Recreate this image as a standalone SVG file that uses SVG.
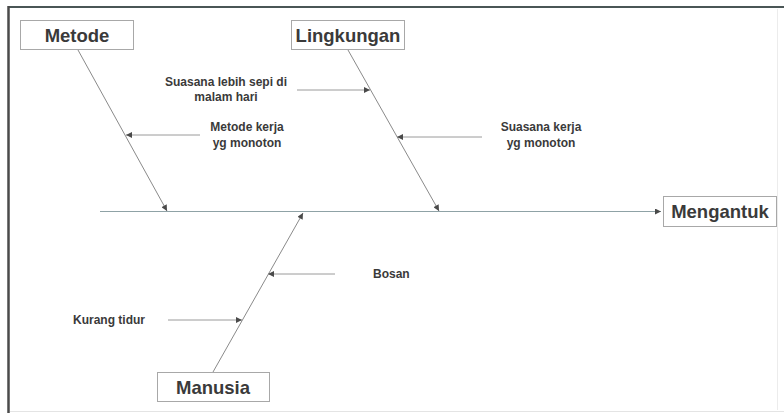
<svg xmlns="http://www.w3.org/2000/svg" width="784" height="413" viewBox="0 0 784 413">
  <style>
    .box { fill: #ffffff; stroke: #a8a8a8; stroke-width: 1; }
    .title { font-family: "Liberation Sans", Arial, sans-serif; font-weight: bold; font-size: 18.5px; fill: #3a3a3a; text-anchor: middle; }
    .cause { font-family: "Liberation Sans", Arial, sans-serif; font-weight: bold; font-size: 12px; fill: #3a3a3a; }
    .bone { stroke: #8a8a8a; stroke-width: 1; fill: none; }
    .spine { stroke: #8fa2a6; stroke-width: 1.2; fill: none; }
    .sub { stroke: #9a9a9a; stroke-width: 1; fill: none; marker-end: url(#head); }
  </style>
  <defs>
    <marker id="head" viewBox="0 0 10 10" refX="10" refY="5" markerWidth="8" markerHeight="6" markerUnits="userSpaceOnUse" orient="auto">
      <path d="M0,0 L10,5 L0,10 Z" fill="#4a4a4a"/>
    </marker>
  </defs>

  <rect width="784" height="413" fill="#ffffff"/>

  <!-- page frame -->
  <g id="frame">
    <line x1="8" y1="7" x2="784" y2="7" stroke="#4a5656" stroke-width="2"/>
    <line x1="8.5" y1="6" x2="8.5" y2="413" stroke="#4a4a4a" stroke-width="2.5"/>
    <line x1="777.5" y1="9" x2="777.5" y2="410" stroke="#ececec" stroke-width="1"/>
    <line x1="10" y1="411.5" x2="784" y2="411.5" stroke="#e4e4e4" stroke-width="1"/>
  </g>

  <!-- spine and bones -->
  <g id="connectors">
    <line class="spine" x1="100" y1="211.5" x2="661" y2="211.5" marker-end="url(#head)"/>
    <line class="bone" x1="78" y1="50" x2="167" y2="211" marker-end="url(#head)"/>
    <line class="bone" x1="348" y1="50" x2="439" y2="211" marker-end="url(#head)"/>
    <line class="bone" x1="213" y1="372" x2="303" y2="213" marker-end="url(#head)"/>

    <line class="sub" x1="297" y1="90" x2="370" y2="90"/>
    <line class="sub" x1="200" y1="135" x2="126" y2="135"/>
    <line class="sub" x1="482" y1="137" x2="397" y2="137"/>
    <line class="sub" x1="335" y1="274" x2="268" y2="274"/>
    <line class="sub" x1="168" y1="320" x2="242" y2="320"/>
  </g>

  <g id="metode">
    <rect class="box" x="20.5" y="20.5" width="113" height="29"/>
    <text class="title" x="77" y="41.5">Metode</text>
  </g>

  <g id="lingkungan">
    <rect class="box" x="291.5" y="20.5" width="113" height="29"/>
    <text class="title" x="348" y="41.5">Lingkungan</text>
  </g>

  <g id="mengantuk">
    <rect class="box" x="663.5" y="196.5" width="113" height="30"/>
    <text class="title" x="720" y="218">Mengantuk</text>
  </g>

  <g id="manusia">
    <rect class="box" x="157.5" y="372.5" width="112" height="29"/>
    <text class="title" x="213" y="393.5">Manusia</text>
  </g>

  <g id="cause-suasana-sepi">
    <text class="cause" x="226" y="86" text-anchor="middle">Suasana lebih sepi di</text>
    <text class="cause" x="226" y="101" text-anchor="middle">malam hari</text>
  </g>

  <g id="cause-metode-kerja">
    <text class="cause" x="247" y="131" text-anchor="middle">Metode kerja</text>
    <text class="cause" x="247" y="147" text-anchor="middle">yg monoton</text>
  </g>

  <g id="cause-suasana-kerja">
    <text class="cause" x="541" y="131" text-anchor="middle">Suasana kerja</text>
    <text class="cause" x="541" y="147" text-anchor="middle">yg monoton</text>
  </g>

  <g id="cause-bosan">
    <text class="cause" x="373" y="278">Bosan</text>
  </g>

  <g id="cause-kurang-tidur">
    <text class="cause" x="73" y="324">Kurang tidur</text>
  </g>
</svg>
